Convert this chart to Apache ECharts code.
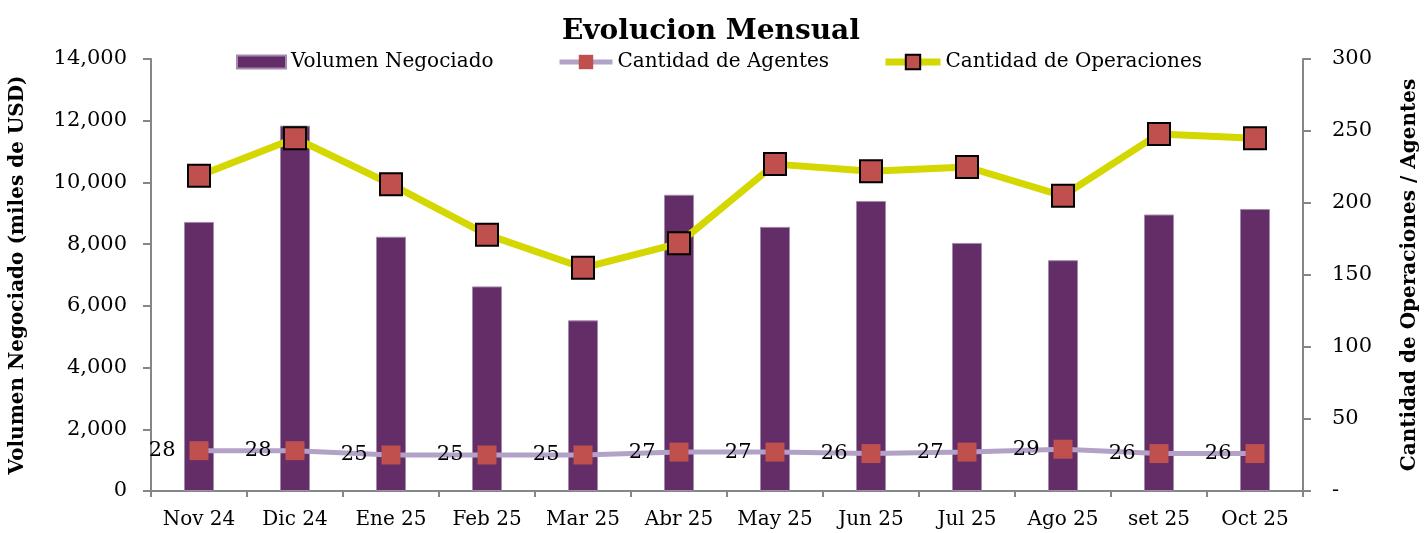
<!DOCTYPE html>
<html>
<head>
<meta charset="utf-8">
<title>Evolucion Mensual</title>
<script src="https://cdn.jsdelivr.net/npm/echarts@6/dist/echarts.min.js"></script>
<style>
  html, body { margin: 0; padding: 0; background: #fff; }
  #chart { width: 1428px; height: 533px; }
</style>
</head>
<body>
<div id="chart"></div>
<script>
// datos
const meses = ['Nov 24', 'Dic 24', 'Ene 25', 'Feb 25', 'Mar 25', 'Abr 25', 'May 25', 'Jun 25', 'Jul 25', 'Ago 25', 'set 25', 'Oct 25']
const volumen = [8720, 11840, 8240, 6630, 5530, 9600, 8560, 9400, 8040, 7480, 8960, 9140]
const agentes = [28, 28, 25, 25, 25, 27, 27, 26, 27, 29, 26, 26]
const operaciones = [219, 245, 213, 178, 155, 172, 227, 222, 225, 205, 248, 245]

const FONT = 'DejaVu Serif'
const axisGray = '#868686'

const chart = echarts.init(document.getElementById('chart'))

const option = {
  animation: false,
  textStyle: { fontFamily: FONT, color: '#000' },
  title: {
    text: 'Evolucion Mensual',
    left: 557,
    top: 13,
    textStyle: { fontFamily: FONT, fontSize: 28, fontWeight: 'bold', color: '#000' },
  },
  legend: [
    {
      data: [{ name: 'Volumen Negociado', icon: 'rect' }],
      left: 236, top: 52, padding: 0,
      itemWidth: 49, itemHeight: 13,
      textStyle: { fontFamily: FONT, fontSize: 20, color: '#000' },
    },
    {
      data: [{ name: 'Cantidad de Agentes', lineStyle: { width: 5, color: '#B3A2C7' } }],
      left: 557, top: 52, padding: 0,
      itemWidth: 53, itemHeight: 18,
      textStyle: { fontFamily: FONT, fontSize: 20, color: '#000' },
    },
    {
      data: [{ name: 'Cantidad de Operaciones', lineStyle: { width: 7, color: '#D4D700' } }],
      left: 882, top: 52, padding: 0,
      itemWidth: 55, itemHeight: 18,
      textStyle: { fontFamily: FONT, fontSize: 20, color: '#000' },
    },
  ],
  grid: { left: 151, right: 115, top: 59, bottom: 42 },
  xAxis: {
    type: 'category',
    data: meses,
    axisLine: { lineStyle: { color: axisGray, width: 2 } },
    axisTick: { show: true, length: 6, lineStyle: { color: axisGray, width: 2 } },
    axisLabel: { interval: 0, fontFamily: FONT, fontSize: 20, color: '#000', margin: 19 },
  },
  yAxis: [
    {
      type: 'value',
      min: 0, max: 14000, interval: 2000,
      name: 'Volumen Negociado (miles de USD)',
      nameLocation: 'middle',
      nameRotate: 90,
      nameGap: 123,
      nameTextStyle: { fontFamily: FONT, fontSize: 20, fontWeight: 'bold', color: '#000' },
      axisLine: { show: true, lineStyle: { color: axisGray, width: 2 } },
      axisTick: { show: true, length: 8, lineStyle: { color: axisGray, width: 2 } },
      splitLine: { show: false },
      axisLabel: {
        fontFamily: FONT, fontSize: 21, color: '#000', margin: 24,
        formatter: v => v.toLocaleString('en-US'),
      },
    },
    {
      type: 'value',
      min: 0, max: 300, interval: 50,
      name: 'Cantidad de Operaciones / Agentes',
      nameLocation: 'middle',
      nameRotate: 90,
      nameGap: 97,
      nameTextStyle: { fontFamily: FONT, fontSize: 20, fontWeight: 'bold', color: '#000' },
      axisLine: { show: true, lineStyle: { color: axisGray, width: 2 } },
      axisTick: { show: true, length: 8, lineStyle: { color: axisGray, width: 2 } },
      splitLine: { show: false },
      axisLabel: {
        fontFamily: FONT, fontSize: 21, color: '#000', margin: 29,
        formatter: v => (v === 0 ? '-' : v),
      },
    },
  ],
  series: [
    {
      name: 'Volumen Negociado',
      type: 'bar',
      yAxisIndex: 0,
      barWidth: 30,
      itemStyle: { color: '#632D67', borderColor: '#a58bab', borderWidth: 1 },
      data: volumen,
    },
    {
      name: 'Cantidad de Agentes',
      type: 'line',
      yAxisIndex: 1,
      symbol: 'rect',
      symbolSize: 19,
      lineStyle: { color: '#B3A2C7', width: 5 },
      itemStyle: { color: '#C0504D', borderWidth: 0 },
      label: {
        show: true,
        position: 'left',
        distance: 14,
        fontFamily: FONT, fontSize: 21, color: '#000',
      },
      data: agentes,
    },
    {
      name: 'Cantidad de Operaciones',
      type: 'line',
      yAxisIndex: 1,
      symbol: 'rect',
      symbolSize: 22,
      lineStyle: { color: '#D4D700', width: 7 },
      itemStyle: { color: '#C0504D', borderColor: '#000', borderWidth: 2 },
      data: operaciones,
    },
  ],
}

chart.setOption(option)
</script>
</body>
</html>
